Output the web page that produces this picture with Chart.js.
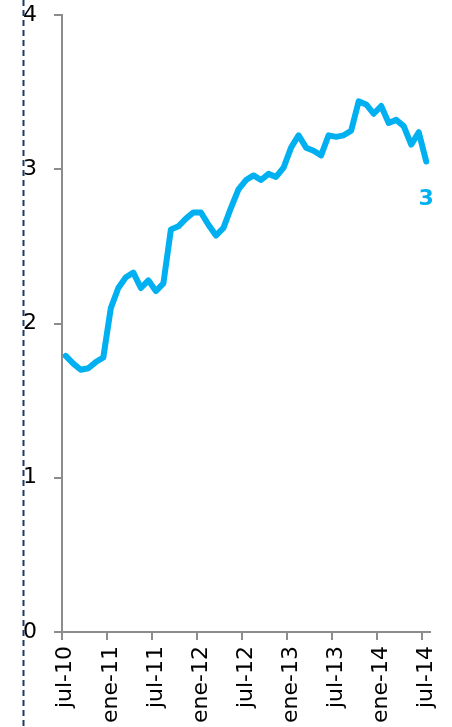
<!DOCTYPE html>
<html>
<head>
<meta charset="utf-8">
<script src="https://cdn.jsdelivr.net/npm/chart.js@4.4.0/dist/chart.umd.min.js"></script>
<style>
  body { margin: 0; background: #fff; }
  #chart { display: block; }
</style>
</head>
<body>
<canvas id="chart" width="452" height="727"></canvas>
<script>
// categories: monthly, jul-10 .. jul-14
const months = [
  'jul-10', 'ago-10', 'sep-10', 'oct-10', 'nov-10', 'dic-10',
  'ene-11', 'feb-11', 'mar-11', 'abr-11', 'may-11', 'jun-11',
  'jul-11', 'ago-11', 'sep-11', 'oct-11', 'nov-11', 'dic-11',
  'ene-12', 'feb-12', 'mar-12', 'abr-12', 'may-12', 'jun-12',
  'jul-12', 'ago-12', 'sep-12', 'oct-12', 'nov-12', 'dic-12',
  'ene-13', 'feb-13', 'mar-13', 'abr-13', 'may-13', 'jun-13',
  'jul-13', 'ago-13', 'sep-13', 'oct-13', 'nov-13', 'dic-13',
  'ene-14', 'feb-14', 'mar-14', 'abr-14', 'may-14', 'jun-14',
  'jul-14'
];

// series values
const values = [
  1.79, 1.74, 1.70, 1.71, 1.75, 1.78,
  2.10, 2.23, 2.30, 2.33, 2.23, 2.28,
  2.21, 2.26, 2.61, 2.63, 2.68, 2.72,
  2.72, 2.64, 2.57, 2.62, 2.75, 2.87,
  2.93, 2.96, 2.93, 2.97, 2.95, 3.01,
  3.14, 3.22, 3.14, 3.12, 3.09, 3.22,
  3.21, 3.22, 3.25, 3.44, 3.42, 3.36,
  3.41, 3.30, 3.32, 3.28, 3.16, 3.24,
  3.05
];

const yMin = 0;
const yMax = 4;
const yStep = 1;
const labelEvery = 6;
const endLabel = '3';

const lineBlue = '#00b0f0';
const axisGray = '#8c8c8c';

// dashed vertical rule on the left
const dashedRule = {
  id: 'dashedRule',
  afterDraw(chart) {
    const ctx = chart.ctx;
    ctx.save();
    ctx.strokeStyle = '#1f3864';
    ctx.lineWidth = 2;
    ctx.setLineDash([6, 4]);
    ctx.beginPath();
    ctx.moveTo(23.5, 0);
    ctx.lineTo(23.5, chart.height);
    ctx.stroke();
    ctx.restore();
  }
};

// value label under the last point
const lastValue = {
  id: 'lastValue',
  afterDatasetsDraw(chart) {
    const meta = chart.getDatasetMeta(0);
    const pt = meta.data[meta.data.length - 1];
    const ctx = chart.ctx;
    ctx.save();
    ctx.fillStyle = lineBlue;
    ctx.font = 'bold 22px "DejaVu Sans"';
    ctx.textAlign = 'center';
    ctx.textBaseline = 'middle';
    ctx.fillText(endLabel, pt.x, pt.y + 38);
    ctx.restore();
  }
};

const config = {
  type: 'line',
  data: {
    labels: months,
    datasets: [{
      data: values,
      borderColor: lineBlue,
      borderWidth: 6,
      borderJoinStyle: 'round',
      borderCapStyle: 'round',
      pointRadius: 0,
      tension: 0,
      fill: false
    }]
  },
  options: {
    responsive: false,
    animation: false,
    devicePixelRatio: 1,
    layout: {
      padding: { top: 15, right: 22, left: 0, bottom: 0 }
    },
    plugins: {
      legend: { display: false },
      tooltip: { enabled: false }
    },
    scales: {
      x: {
        type: 'category',
        offset: true,
        afterFit(scale) {
          scale.height = 95;
          scale.paddingLeft = 0;
          scale.paddingRight = 0;
        },
        grid: {
          offset: true,
          drawOnChartArea: false,
          drawTicks: true,
          tickLength: 8,
          lineWidth: 2,
          color: (c) => (c.index !== undefined && c.index % labelEvery === 0) ? axisGray : 'rgba(0,0,0,0)'
        },
        border: { display: true, color: axisGray, width: 2 },
        ticks: {
          autoSkip: false,
          minRotation: 90,
          maxRotation: 90,
          padding: 6,
          color: '#000',
          font: { family: 'DejaVu Sans', size: 22 },
          callback: (v, i) => (i % labelEvery === 0 ? months[i] : '')
        }
      },
      y: {
        min: yMin,
        max: yMax,
        afterFit(scale) {
          scale.width = 62;
          scale.paddingTop = 0;
          scale.paddingBottom = 0;
        },
        grid: {
          drawOnChartArea: false,
          drawTicks: true,
          tickLength: 8,
          lineWidth: 2,
          color: axisGray
        },
        border: { display: true, color: axisGray, width: 2 },
        ticks: {
          stepSize: yStep,
          padding: 17,
          color: '#000',
          font: { family: 'DejaVu Sans', size: 22 }
        }
      }
    }
  },
  plugins: [dashedRule, lastValue]
};

const chart = new Chart(document.getElementById('chart'), config);
</script>
</body>
</html>
